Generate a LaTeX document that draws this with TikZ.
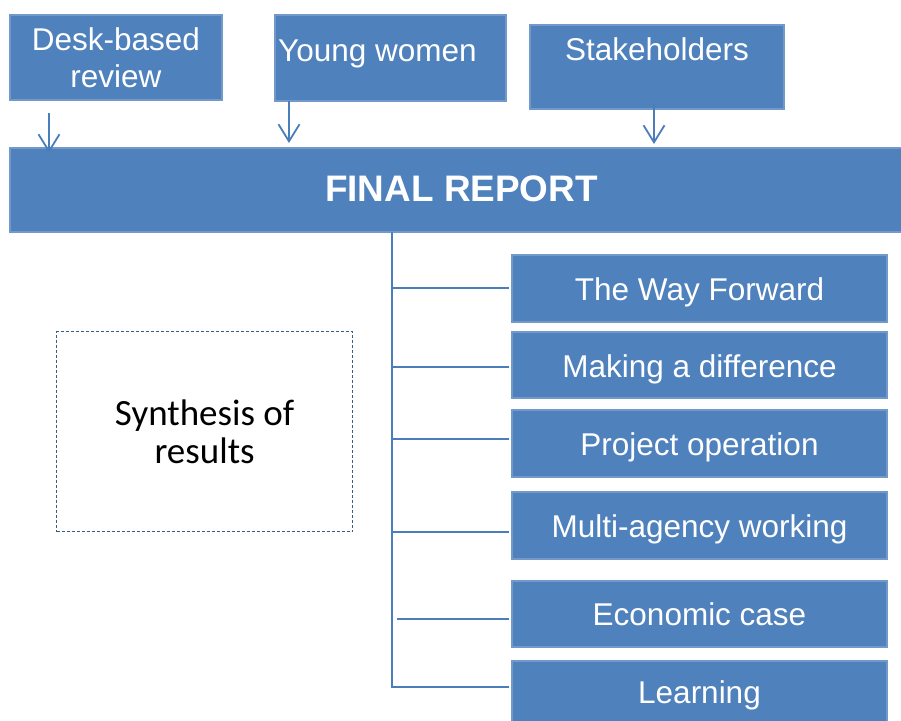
\documentclass[tikz,border=0pt]{standalone}
\usepackage{fontspec}
\setmainfont{Liberation Sans}
\newfontfamily\calib{Carlito}
\usetikzlibrary{arrows.meta}
\definecolor{bfill}{HTML}{4F81BD}
\definecolor{bedge}{HTML}{7399CB}
\definecolor{lblue}{HTML}{4A7EBB}
\definecolor{dashc}{HTML}{385D8A}
\begin{document}
\begin{tikzpicture}[x=1pt,y=-1pt,
  box/.style={draw=bedge,fill=bfill,line width=1.2pt,inner sep=0pt,outer sep=0pt,text=white,anchor=north west},
  big/.style={font=\fontsize{31.5}{37}\selectfont},
  txt/.style={text=white,inner sep=0pt,big,anchor=base},
  rbox/.style={box,big,minimum width=375pt,text height=45pt,text depth=22pt},
  conn/.style={draw=lblue,line width=1.8pt},
  arr/.style={conn,-{Straight Barb[length=17pt,width=21pt]}}]
\useasboundingbox (0,0) rectangle (901,720);
% top boxes
\node[box,minimum width=212pt,minimum height=85pt] (desk) at (10,15) {};
\node[txt,align=center] (deskt) at (116,87) {Desk-based\\review};
\node[box,minimum width=231pt,minimum height=86pt] (yw) at (275,15) {};
\node[txt,anchor=base west] (ywt) at (278,61.5) {Young women};
\node[box,minimum width=254pt,minimum height=84pt] (sh) at (530,25) {};
\node[txt] (sht) at (657,60) {Stakeholders};
% final report
\node[box,minimum width=893pt,minimum height=84pt] (final) at (10,148) {};
\node[txt,font=\bfseries\fontsize{36.9}{40}\selectfont] (finalt) at (461.5,201) {FINAL REPORT};
% arrows
\draw[arr] ([xshift=39pt,yshift=-13pt]desk.south west) -- ([xshift=39pt,yshift=-5pt]final.north west);
\draw[arr] ([xshift=14pt]yw.south west) -- ([xshift=279pt,yshift=5pt]final.north west);
\draw[arr] ([xshift=124pt,yshift=6pt]sh.south west) -- ([xshift=644pt,yshift=4pt]final.north west);
% right boxes
\node[rbox] (tw) at (512,255) {The Way Forward};
\node[rbox,text depth=21pt] (md) at (512,332) {Making a difference};
\node[rbox] (po) at (512,410) {Project operation};
\node[rbox] (ma) at (512,492) {Multi-agency working};
\node[rbox,text height=44pt] (ec) at (512,581) {Economic case};
\node[rbox,text height=42pt,text depth=25pt] (le) at (512,661) {Learning};
% spine
\coordinate (sp) at ([xshift=382pt]final.south west);
\coordinate (spend) at (392,688);
\draw[conn] (sp) -- (spend);
\coordinate (b1) at ([yshift=0.5pt]tw.west);
\coordinate (b2) at ([yshift=-2pt]md.west);
\coordinate (b3) at ([yshift=4.5pt]po.west);
\coordinate (b4) at ([yshift=-6.5pt]ma.west);
\coordinate (b5) at ([yshift=-5pt]ec.west);
\coordinate (b6) at ([yshift=7.5pt]le.west);
\foreach \b in {b1,b2,b3,b4,b6}{
  \draw[conn] (sp |- \b) -- ([xshift=-3pt]\b);
}
\draw[conn] ([xshift=5pt]sp |- b5) -- ([xshift=-3pt]b5);
% synthesis
\node[draw=dashc,line width=1.2pt,dash pattern=on 3pt off 2pt,minimum width=296pt,minimum height=200pt,anchor=north west,align=center,inner sep=0pt,font=\calib\fontsize{37}{38}\selectfont] (syn) at (56,331) {Synthesis of\\results};
\end{tikzpicture}
\end{document}
